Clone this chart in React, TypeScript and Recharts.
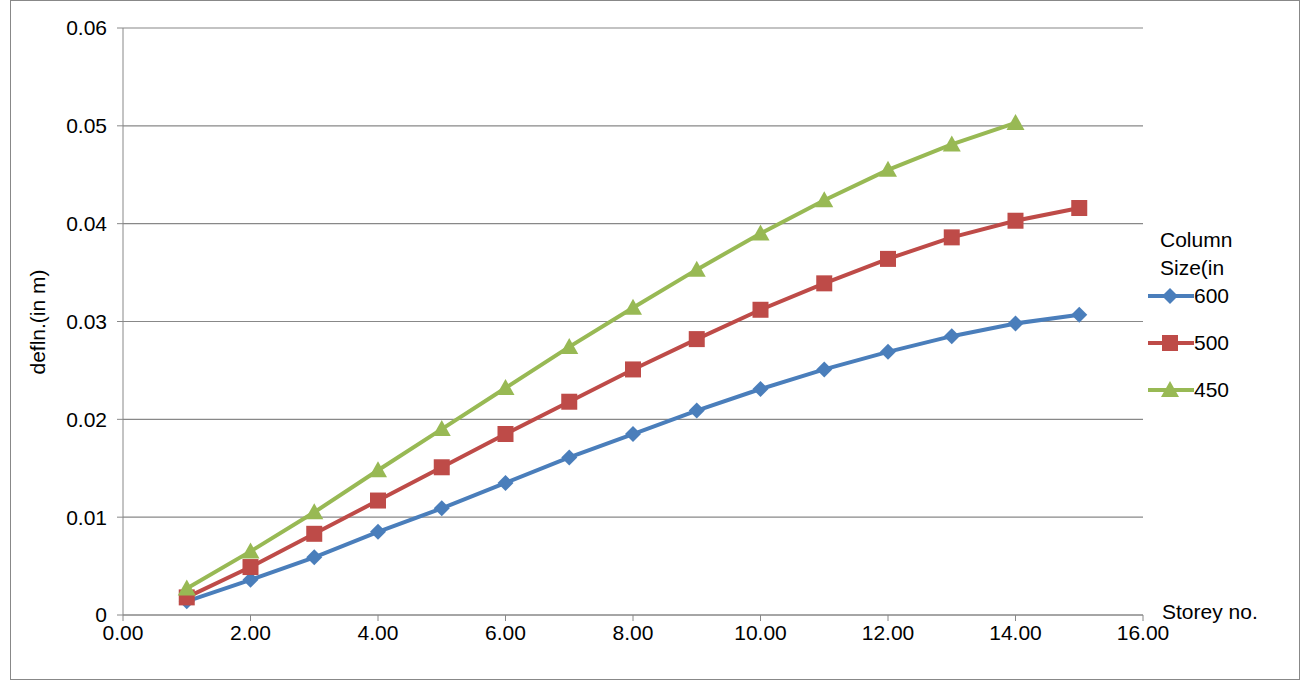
import { LineChart, Line, XAxis, YAxis, CartesianGrid, Legend } from "recharts";

const storeys = [1, 2, 3, 4, 5, 6, 7, 8, 9, 10, 11, 12, 13, 14, 15];
const col600 = [0.0014, 0.0036, 0.0059, 0.0085, 0.0109, 0.0135, 0.0161, 0.0185, 0.0209, 0.0231, 0.0251, 0.0269, 0.0285, 0.0298, 0.0307];
const col500 = [0.0018, 0.0049, 0.0083, 0.0117, 0.0151, 0.0185, 0.0218, 0.0251, 0.0282, 0.0312, 0.0339, 0.0364, 0.0386, 0.0403, 0.0416];
const col450 = [0.0027, 0.0065, 0.0105, 0.0148, 0.019, 0.0232, 0.0274, 0.0314, 0.0353, 0.039, 0.0424, 0.0455, 0.0481, 0.0503, null];
const xTicks = [0, 2, 4, 6, 8, 10, 12, 14, 16];
const yTicks = [0, 0.01, 0.02, 0.03, 0.04, 0.05, 0.06];

const data = storeys.map((s, i) => ({ s, a: col600[i], b: col500[i], c: col450[i] }));

const BLUE = "#4A7EBB";
const RED = "#BE4B48";
const GREEN = "#98B954";
const FONT = "'Liberation Sans', sans-serif";

const Diamond = (p: any) =>
  p.cx == null || p.value == null ? null : (
    <polygon key={p.index} points={`${p.cx},${p.cy - 8} ${p.cx + 8},${p.cy} ${p.cx},${p.cy + 8} ${p.cx - 8},${p.cy}`} fill={BLUE} />
  );
const Square = (p: any) =>
  p.cx == null || p.value == null ? null : <rect key={p.index} x={p.cx - 8} y={p.cy - 8} width={16} height={16} fill={RED} />;
const Triangle = (p: any) =>
  p.cx == null || p.value == null ? null : (
    <polygon key={p.index} points={`${p.cx},${p.cy - 9} ${p.cx + 9},${p.cy + 7} ${p.cx - 9},${p.cy + 7}`} fill={GREEN} />
  );

const LegendBox = () => {
  const items = [
    { name: "600", color: BLUE, shape: <polygon points="22,-8 30,0 22,8 14,0" fill={BLUE} /> },
    { name: "500", color: RED, shape: <rect x={14} y={-8} width={16} height={16} fill={RED} /> },
    { name: "450", color: GREEN, shape: <polygon points="22,-9 31,7 13,7" fill={GREEN} /> },
  ];
  return (
    <div style={{ position: "absolute", left: 1160, top: 226, fontFamily: FONT, fontSize: 21, color: "#000" }}>
      <div style={{ lineHeight: "28px" }}>Column</div>
      <div style={{ lineHeight: "28px" }}>Size(in</div>
      {items.map((it, i) => (
        <div key={it.name} style={{ position: "absolute", left: -12, top: 72 + i * 47 - 14, display: "flex", alignItems: "center" }}>
          <svg width={50} height={24} style={{ overflow: "visible" }}>
            <g transform="translate(0,12)">
              <line x1={0} x2={46} y1={0} y2={0} stroke={it.color} strokeWidth={4} />
              {it.shape}
            </g>
          </svg>
          <span style={{ marginLeft: -4 }}>{it.name}</span>
        </div>
      ))}
    </div>
  );
};

export default function App() {
  return (
    <div style={{ position: "absolute", left: 0, top: 0, width: 1308, height: 680, background: "#fff" }}>
      <div style={{ position: "absolute", left: 10, top: 0, width: 1288, height: 678, border: "1px solid #888" }} />
      <LineChart width={1308} height={680} data={data} margin={{ top: 28, right: 165, bottom: 35, left: 0 }}>
        <CartesianGrid horizontal vertical={false} stroke="#888" strokeWidth={1.2} />
        <XAxis
          dataKey="s"
          type="number"
          domain={[0, 16]}
          ticks={xTicks}
          tickFormatter={(v) => v.toFixed(2)}
          stroke="#888"
          tick={{ fill: "#000", fontSize: 21, fontFamily: FONT }}
          tickSize={6}
          tickMargin={4}
        />
        <YAxis
          type="number"
          domain={[0, 0.06]}
          ticks={yTicks}
          width={123}
          stroke="#888"
          tick={{ fill: "#000", fontSize: 21, fontFamily: FONT }}
          tickSize={6}
          tickMargin={10}
        />
        <Legend content={() => null} />
        <Line dataKey="a" stroke={BLUE} strokeWidth={4} dot={Diamond} isAnimationActive={false} />
        <Line dataKey="b" stroke={RED} strokeWidth={4} dot={Square} isAnimationActive={false} />
        <Line dataKey="c" stroke={GREEN} strokeWidth={4} dot={Triangle} isAnimationActive={false} />
      </LineChart>
      <div
        style={{
          position: "absolute",
          left: 38,
          top: 322,
          transform: "translate(-50%,-50%) rotate(-90deg)",
          fontFamily: FONT,
          fontSize: 21,
          whiteSpace: "nowrap",
        }}
      >
        defln.(in m)
      </div>
      <div style={{ position: "absolute", left: 1162, top: 600, fontFamily: FONT, fontSize: 21 }}>Storey no.</div>
      <LegendBox />
    </div>
  );
}
